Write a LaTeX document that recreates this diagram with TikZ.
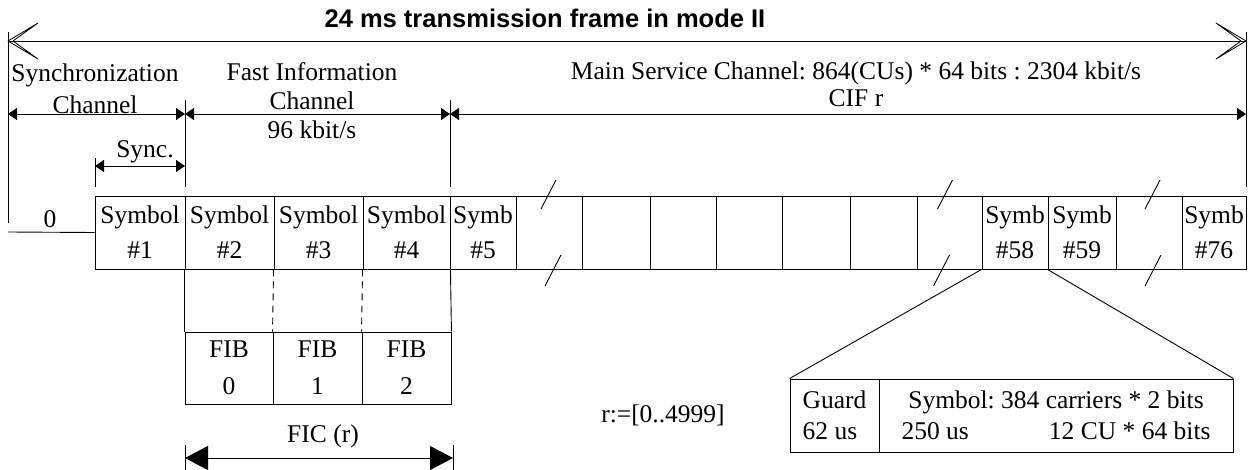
\documentclass[tikz,border=0pt]{standalone}
\usepackage{fontspec}
\setmainfont{Liberation Serif}
\newfontfamily\titlefont{Liberation Sans}
\usetikzlibrary{arrows.meta}
\frenchspacing
\tikzset{>=stealth,
  symcell/.style={draw, inner sep=0pt, minimum height=73pt, align=center, font=\fontsize{25.5}{35}\selectfont},
  fibcell/.style={draw, inner sep=0pt, minimum height=72pt, align=center, font=\fontsize{25.5}{37}\selectfont},
  txt/.style={inner sep=0pt, align=center, font=\fontsize{25.5}{31}\selectfont},
  dimline/.style={arrows={Triangle[length=9pt,width=12pt]-Triangle[length=9pt,width=12pt]}},
  bigdim/.style={arrows={Triangle[length=23pt,width=24pt]-Triangle[length=23pt,width=24pt]}},
  openhead/.style={line join=round, line width=0.8pt},
  fibdash/.style={dash pattern=on 7pt off 5pt}
}

\begin{document}
\begin{tikzpicture}[x=1pt,y=-1pt,line width=0.9pt]
\useasboundingbox (0,0) rectangle (1249,470);
\node[font={\titlefont\bfseries\fontsize{25.5}{30}\selectfont}] (title) at (545,18) {24 ms transmission frame in mode II};
\coordinate (fl) at (8,41);
\coordinate (fr) at (1246,41);
\draw (fl) -- (fr);
\draw[openhead] ([shift={(30,-18)}]fl) -- (fl) -- ([shift={(30,18)}]fl) -- ([shift={(5,0)}]fl) -- cycle;
\draw[openhead] ([shift={(-30,-18)}]fr) -- (fr) -- ([shift={(-30,18)}]fr) -- ([shift={(-5,0)}]fr) -- cycle;
\draw (8,32) -- (8,223);
\draw (1246,32) -- (1246,187);
\draw (185,100) -- (185,187);
\draw (450,100) -- (450,187);
\draw (95,158) -- (95,187);
\coordinate (d0) at (8,114);
\coordinate (d1) at (185,114);
\coordinate (d2) at (450,114);
\coordinate (d3) at (1246,114);
\draw[dimline] (d0) -- (d1);
\draw[dimline] (d1) -- (d2);
\draw[dimline] (d2) -- (d3);
\coordinate (y0) at (95,166);
\coordinate (y1) at (185,166);
\draw[dimline] (y0) -- (y1);
\node[txt, font=\fontsize{25.5}{32}\selectfont] (sch) at (95,89) {Synchronization\\Channel};
\node[txt, font=\fontsize{25.5}{29}\selectfont] (fch) at (312,101) {Fast Information\\Channel\\96 kbit/s};
\node[txt, font=\fontsize{25.5}{27}\selectfont] (msc) at (856,84) {Main Service Channel: 864(CUs) * 64 bits : 2304 kbit/s\\CIF r};
\node[txt] (sync) at (145,152) {Sync.};
\foreach \a/\b/\t [count=\i] in {95/185/{Symbol\\\#1},185/274/{Symbol\\\#2},274/363/{Symbol\\\#3},363/450/{Symbol\\\#4},450/516/{Symb\\\#5},516/582/{},582/650/{},650/716/{},716/782/{},782/850/{},850/917/{},917/982/{},982/1048/{Symb\\\#58},1048/1116/{Symb\\\#59},1116/1182/{},1182/1246/{Symb\\\#76}}
  \node[symcell, minimum width={\b-\a}] (s\i) at ({(\a+\b)/2},232.5) {\t};
\foreach \c/\u/\v in {s6/-8/-4,s12/-12/-16,s15/-4/-4}{
  \draw ([shift={(\u,-23.5)}]\c.center) -- ++(15,-29);
  \draw ([shift={(\v,53.5)}]\c.center) -- ++(16,-31);
}
\coordinate (zero) at (8,232);
\draw (s1.west) -- (zero);
\node[txt] (zlbl) at (50,219) {0};
\node[fibcell, minimum width=88pt] (f0) at (229,368) {FIB\\0};
\node[fibcell, minimum width=89pt] (f1) at (317.5,368) {FIB\\1};
\node[fibcell, minimum width=89pt] (f2) at (406.5,368) {FIB\\2};
\draw (s2.south west) -- (f0.north west);
\draw[fibdash] (s3.south west) -- (f1.north west);
\draw[fibdash] (s4.south west) -- (f2.north west);
\draw (s4.south east) -- (f2.north east);
\draw (185,445) -- (185,470);
\draw (453,445) -- (453,470);
\coordinate (c0) at (185,458);
\coordinate (c1) at (453,458);
\draw[bigdim] (c0) -- (c1);
\node[txt] (fic) at (323,436) {FIC (r)};
\node[txt] (range) at (663,415) {r:=[0..4999]};
\node[draw, inner sep=0pt, minimum width=89pt, minimum height=73pt, align=left, font=\fontsize{25.5}{31}\selectfont] (guard) at (834.5,415.5) {Guard\\62 us};
\node[draw, inner sep=0pt, minimum width=354pt, minimum height=73pt, align=center, font=\fontsize{25.5}{31}\selectfont] (sym) at (1056,415.5) {Symbol: 384 carriers * 2 bits\\\makebox[309pt]{250 us\hfill 12 CU * 64 bits}};
\draw (s13.south west) -- (guard.north west);
\draw (s14.south west) -- (sym.north east);
\end{tikzpicture}
\end{document}
